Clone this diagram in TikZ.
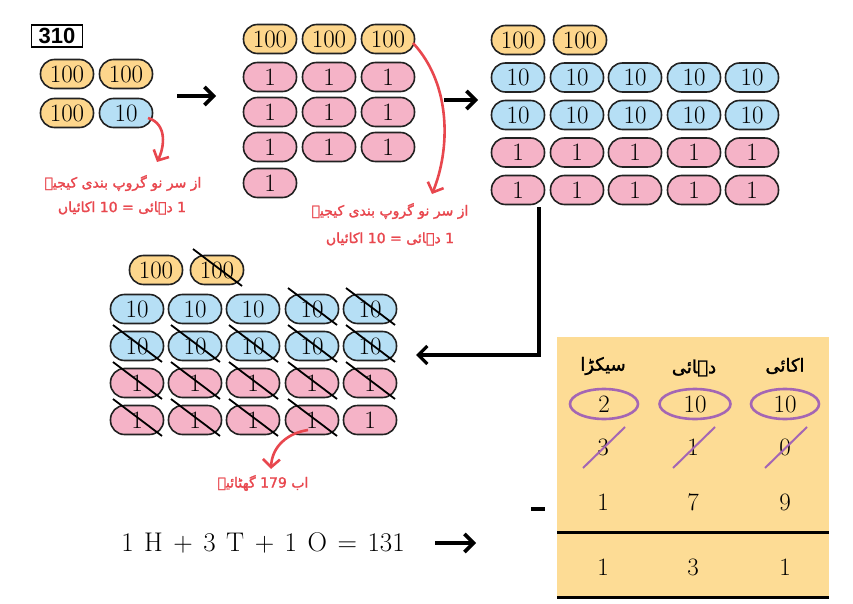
\documentclass[tikz,border=0pt]{standalone}
\usepackage{fontspec}
\usetikzlibrary{arrows.meta,shapes.geometric}
\TeXXeTstate=1
\newfontfamily\urdu[Script=Arabic, FakeBold=1.6]{DejaVu Sans}
\newfontfamily\boxfont{Liberation Sans}
\definecolor{hundfill}{HTML}{FDD68C}
\definecolor{tenfill}{HTML}{B6DFF5}
\definecolor{onefill}{HTML}{F5B3C7}
\definecolor{pillline}{HTML}{222222}
\definecolor{urdured}{HTML}{E8474E}
\definecolor{circpurple}{HTML}{A466B4}
\definecolor{tablefill}{HTML}{FDDC95}

\begin{document}
\begin{tikzpicture}[x=1pt, y=-1pt,
		pill/.style={draw=pillline, line width=1.6pt, rounded corners=14pt, minimum width=53pt, minimum height=29pt, inner sep=0pt, font=\fontsize{25}{25}\selectfont},
		hund/.style={pill, fill=hundfill},
		ten/.style={pill, fill=tenfill},
		one/.style={pill, fill=onefill},
		strike/.style={line width=1.8pt},
		urtext/.style={text=urdured, font=\urdu\fontsize{14}{14}\selectfont},
		head/.style={font=\urdu\fontsize{18}{18}\selectfont},
		digit/.style={font=\fontsize{25}{25}\selectfont},
		ring/.style={digit, ellipse, draw=circpurple, line width=2.6pt, minimum width=68pt, minimum height=30pt, inner sep=0pt},
		redarrow/.style={draw=urdured, line width=2.6pt, -{Straight Barb[length=8pt, width=17pt]}},
		bigarrow/.style={line width=3.6pt, -{Straight Barb[length=9pt, width=18pt]}},
	]
	\useasboundingbox (0,0) rectangle (853,604);

	\node[draw, line width=1.6pt, minimum width=51pt, minimum height=22pt, inner sep=0pt, font=\boxfont\bfseries\fontsize{22}{22}\selectfont] (num) at (57,36) {310};

	\node[hund] (a-1-1) at (67,74) {100};
	\node[hund] (a-1-2) at (126,74) {100};
	\node[hund] (a-2-1) at (67,113) {100};
	\node[ten] (a-2-2) at (126,113) {10};
	\coordinate (a-tip) at (157,162);
	\draw[redarrow] ([shift={(22,5)}]a-2-2.center) .. controls (168,124) and (164,148) .. (a-tip);
	\node[urtext] (a-txt1) at (123,183) {\beginR از سر نو گروپ بندی کیجیے\endR};
	\node[urtext] (a-txt2) at (122,208) {\beginR\beginL 1\endL{} دہائی = \beginL 10\endL{} اکائیاں\endR};

	\coordinate (ab-start) at (177,96);
	\coordinate (ab-end) at (216,96);
	\draw[bigarrow] (ab-start) -- (ab-end);

	\foreach \c/\x in {1/270,2/329,3/388}
		\node[hund] (b-0-\c) at (\x,39) {100};
	\foreach \r/\y in {1/77,2/112,3/147}
		\foreach \c/\x in {1/270,2/329,3/388}
			\node[one] (b-\r-\c) at (\x,\y) {1};
	\node[one] (b-4-1) at (270,183) {1};
	\coordinate (b-tip) at (432,194);
	\draw[redarrow] ([shift={(25,4)}]b-0-3.center) .. controls (452,85) and (450,150) .. (b-tip);
	\node[urtext] (b-txt1) at (390,211) {\beginR از سر نو گروپ بندی کیجیے\endR};
	\node[urtext] (b-txt2) at (390,239) {\beginR\beginL 1\endL{} دہائی = \beginL 10\endL{} اکائیاں\endR};

	\coordinate (bc-start) at (444,100);
	\coordinate (bc-end) at (478,100);
	\draw[bigarrow] (bc-start) -- (bc-end);

	\node[hund] (c-0-1) at (518,40) {100};
	\node[hund] (c-0-2) at (580,40) {100};
	\foreach \c/\x in {1/518,2/577,3/635,4/694,5/752} {
		\node[ten] (c-1-\c) at (\x,77.5) {10};
		\node[ten] (c-2-\c) at (\x,115) {10};
		\node[one] (c-3-\c) at (\x,152.5) {1};
		\node[one] (c-4-\c) at (\x,190) {1};
	}
	\coordinate (cd-end) at (416,355);
	\draw[bigarrow, line width=3.2pt] ([shift={(21,17)}]c-4-1.center) |- (cd-end);

	\node[hund] (d-0-1) at (156,270) {100};
	\node[hund] (d-0-2) at (217,270) {100};
	\foreach \c/\x in {1/137,2/195,3/253,4/312,5/370} {
		\node[ten] (d-1-\c) at (\x,309) {10};
		\node[ten] (d-2-\c) at (\x,346) {10};
		\node[one] (d-3-\c) at (\x,383) {1};
		\node[one] (d-4-\c) at (\x,420) {1};
	}
	\foreach \n in {d-0-2,d-1-4,d-1-5,d-2-1,d-2-2,d-2-3,d-2-4,d-2-5,d-3-1,d-3-2,d-3-3,d-3-4,d-3-5,d-4-1,d-4-2,d-4-3,d-4-4}
		\draw[strike] ([shift={(-24,-21)}]\n.center) -- ([shift={(25,16)}]\n.center);
	\coordinate (d-tip) at (271,469);
	\draw[redarrow] ([shift={(-4,10)}]d-4-4.center) .. controls (288,433) and (272,446) .. (d-tip);
	\node[urtext] (d-txt) at (263,483) {\beginR اب \beginL 179\endL{} گھٹائیے\endR};

	\fill[tablefill] (557,337) rectangle (829,597);
	\draw[line width=3pt] (557,532) -- (829,532);
	\draw[line width=3pt] (557,597) -- (829,597);
	\node[head] (h-1) at (603,366) {\beginR سیکڑا\endR};
	\node[head] (h-2) at (694,368) {\beginR دہائی\endR};
	\node[head] (h-3) at (785,366) {\beginR اکائی\endR};
	\node[ring] (r-1) at (604,404) {2};
	\node[ring, minimum width=71pt] (r-2) at (695,404) {10};
	\node[ring] (r-3) at (785,404) {10};
	\foreach \i/\x/\v in {1/603/3,2/693/1,3/785/0} {
		\node[digit] (x-\i) at (\x,447) {\v};
		\draw[circpurple, line width=2pt] ([shift={(-20,21)}]x-\i.center) -- ([shift={(22,-20)}]x-\i.center);
	}
	\foreach \i/\x/\v in {1/603/1,2/693/7,3/785/9}
		\node[digit] (s-\i) at (\x,502) {\v};
	\foreach \i/\x/\v in {1/603/1,2/693/3,3/785/1}
		\node[digit] (y-\i) at (\x,567) {\v};
	\node[inner sep=0pt] (minus) at (538,509) {\rule{14pt}{3.5pt}};

	\node[font=\fontsize{27}{27}\selectfont] (eq) at (263,543) {\spaceskip=10.5pt\relax 1 H + 3 T + 1 O = 131};
	\coordinate (eq-end) at (476,543);
	\draw[bigarrow] ([xshift=27pt]eq.east) -- (eq-end);
\end{tikzpicture}
\end{document}
